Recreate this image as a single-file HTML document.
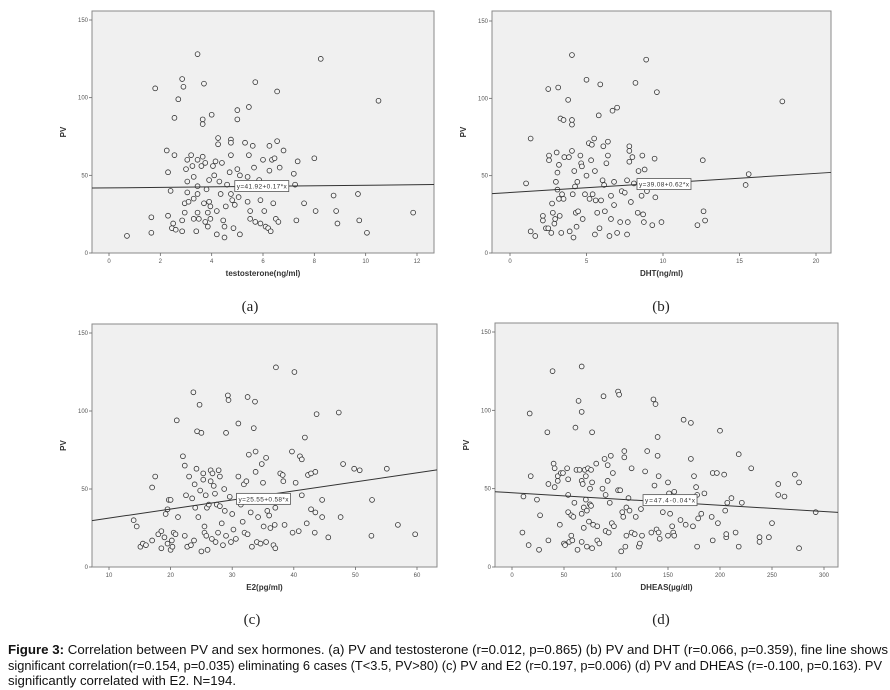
<!DOCTYPE html>
<html><head><meta charset="utf-8">
<style>
html,body{margin:0;padding:0;background:#fff;}
svg{display:block;}
</style></head>
<body>
<svg id="fig" width="890" height="690" viewBox="0 0 890 690" xmlns="http://www.w3.org/2000/svg"></svg>
<script>
// ---- data ----
const tX=[0.7,1.65,1.65,1.8,2.25,2.3,2.3,2.4,2.45,2.5,2.55,2.55,2.6,2.7,2.85,2.85,2.85,2.9,2.95,2.95,3.0,3.05,3.05,3.05,3.1,3.2,3.25,3.3,3.3,3.3,3.4,3.45,3.45,3.45,3.45,3.45,3.5,3.6,3.65,3.65,3.65,3.7,3.7,3.75,3.75,3.8,3.85,3.85,3.9,3.9,3.95,3.95,4.0,4.05,4.1,4.15,4.2,4.2,4.25,4.25,4.3,4.35,4.4,4.45,4.5,4.5,4.55,4.6,4.7,4.75,4.75,4.75,4.75,4.8,4.85,4.9,5.0,5.0,5.0,5.05,5.1,5.1,5.3,5.4,5.4,5.45,5.45,5.5,5.5,5.6,5.65,5.7,5.7,5.85,5.9,5.9,6.0,6.05,6.1,6.2,6.25,6.25,6.3,6.35,6.4,6.45,6.5,6.55,6.55,6.6,6.65,6.8,7.2,7.25,7.3,7.35,7.6,8.0,8.05,8.25,8.75,8.85,8.9,9.7,9.75,10.05,10.5,11.85];
const tY=[11,23,13,106,66,52,24,40,16,19,63,87,15,99,112,21,14,107,32,26,54,60,46,39,33,63,56,49,35,22,14,128,60,43,38,26,22,56,86,83,62,109,32,58,20,41,26,17,47,33,30,22,89,56,50,59,27,12,74,70,46,38,58,21,17,10,30,44,52,73,71,63,38,34,16,31,92,86,54,36,50,12,71,49,33,94,63,22,27,69,55,110,20,47,34,19,60,27,17,16,53,69,14,60,32,61,22,104,72,20,55,66,51,44,21,59,32,61,27,125,37,27,19,38,21,13,98,26];
const dX=[1.05,1.35,1.35,1.65,2.15,2.15,2.35,2.5,2.5,2.55,2.55,2.7,2.75,2.8,2.9,2.95,3.0,3.05,3.1,3.1,3.15,3.2,3.2,3.25,3.3,3.35,3.4,3.5,3.55,3.5,3.8,3.85,3.9,4.05,4.05,4.05,4.05,4.1,4.15,4.2,4.25,4.3,4.35,4.4,4.45,4.6,4.65,4.7,4.75,4.9,5.0,5.0,5.15,5.2,5.3,5.35,5.4,5.5,5.55,5.55,5.6,5.7,5.8,5.85,5.9,5.95,6.05,6.1,6.15,6.2,6.3,6.4,6.4,6.5,6.6,6.6,6.7,6.8,6.8,7.0,7.0,7.2,7.3,7.5,7.65,7.65,7.7,7.8,7.8,7.8,7.9,8.0,8.1,8.2,8.35,8.4,8.6,8.65,8.7,8.75,8.8,8.9,8.95,9.3,9.45,9.5,9.6,9.9,12.25,12.6,12.65,12.75,15.4,15.6,17.8];
const dY=[45,74,14,11,24,21,16,106,16,63,60,13,32,26,19,22,46,65,52,41,107,57,35,24,87,13,38,86,62,35,99,62,14,128,86,83,66,38,10,53,43,26,17,46,27,63,58,56,22,38,112,50,71,35,60,70,38,74,53,12,34,26,89,16,109,34,47,69,44,27,58,72,63,11,22,37,92,46,31,94,13,20,40,39,47,12,20,69,66,59,33,62,45,110,26,53,37,63,25,20,54,125,40,18,61,36,104,20,18,60,27,21,44,51,98];
const eX=[14,14.5,15.1,15.5,16,17,17,17.5,18,18.5,18.5,19,19.2,19.5,19.5,19.7,20,20,20.2,20.3,20.5,20.8,21,21.2,22,22.3,22.3,22.5,22.7,23,23.3,23.5,23.7,23.8,23.9,24,24.2,24.3,24.5,24.7,24.8,25,25,25.3,25.3,25.5,25.5,25.7,25.8,25.9,26,26.2,26.5,26.5,26.7,26.8,27,27.2,27.3,27.5,27.7,27.8,28,28,28.3,28.5,28.7,28.8,29,29,29.3,29.4,29.6,29.8,30,30.2,30.6,31,31,31.4,31.7,31.9,32,32.3,32.5,32.5,32.7,33,33.2,33.5,33.7,33.8,33.8,34,34.2,34.6,34.8,35,35.1,35.5,35.5,35.7,36,36.2,36.7,36.9,37,37.1,37,37.8,38.2,38.3,38.5,39.7,39.8,40.1,40.3,40.8,41,41.3,41.3,41.8,42.1,42.3,42.8,42.8,43.4,43.5,43.5,43.7,44.6,44.6,45.6,47.3,47.6,48,49.8,50.7,52.6,52.7,55.1,56.9,59.7];
const eY=[30,26,13,15,14,17,51,58,21,23,12,19,34,37,15,43,43,11,17,13,22,21,94,32,71,65,20,46,13,58,14,44,112,17,53,38,63,87,32,104,49,86,10,60,56,22,26,46,20,38,11,40,62,55,18,60,52,47,16,40,22,62,58,39,28,14,50,36,86,20,110,107,45,16,34,24,18,92,58,40,29,53,22,55,109,21,72,35,13,89,106,74,61,16,32,15,66,54,26,16,70,36,33,25,14,27,12,128,38,60,59,55,27,74,22,125,54,23,71,69,46,83,28,59,60,37,22,35,61,98,43,32,19,99,32,66,63,62,20,43,63,27,21];
const hX=[10,11,16,17,18,24,26,27,34,35,35,39,40,41,41,44,44,46,47,49,50,51,53,54,54,54,55,57,57,58,59,60,61,62,63,64,65,67,67,67,67,67,68,69,69,70,71,71,72,72,73,74,75,75,76,76,77,77,77,78,81,82,82,84,87,88,89,90,90,92,92,93,94,95,96,97,98,102,102,103,104,105,106,107,108,108,109,110,110,112,113,115,115,118,119,122,123,124,125,128,130,134,136,137,138,139,140,140,141,141,142,145,150,150,151,152,154,155,156,156,162,165,167,172,172,174,175,177,178,178,179,182,185,192,193,193,197,198,200,204,205,206,206,207,211,215,218,218,221,230,238,238,247,250,256,256,262,272,276,276,292];
const hY=[22,45,14,98,58,43,11,33,86,53,17,125,66,63,51,55,58,27,60,60,15,14,63,56,46,35,16,33,20,17,32,41,89,62,11,106,62,99,128,55,34,16,53,38,25,62,58,43,13,36,63,29,50,40,62,39,86,54,12,27,66,17,26,15,50,109,69,23,46,55,65,22,41,71,28,60,26,49,112,110,49,10,35,32,74,70,13,38,20,44,36,63,22,21,32,13,15,37,20,61,74,22,107,52,104,24,83,71,58,22,18,35,54,20,47,34,26,22,48,20,30,94,27,92,69,26,58,51,46,13,31,34,47,32,60,17,60,28,87,59,36,19,21,41,44,22,72,13,41,63,19,16,19,28,46,53,45,59,54,12,35];
const yTicks=[0,50,100,150];
const tTicks=[0,2,4,6,8,10,12];
const dTicks=[0,5,10,15,20];
const dTickLabels=["0","5","10","15","20"];
const eTicks=[10,20,30,40,50,60];
const hTicks=[0,50,100,150,200,250,300];
const intercepts=[41.92,39.08,25.55,47.4];
const slopes=[0.17,0.62,0.58,-0.04];
const eqLabels=["y=41.92+0.17*x","y=39.08+0.62*x","y=25.55+0.58*x","y=47.4-0.04*x"];

const NS="http://www.w3.org/2000/svg";
const svg=document.getElementById('fig');
function mk(tag,attrs,parent){const e=document.createElementNS(NS,tag);for(const k in attrs)e.setAttribute(k,attrs[k]);(parent||svg).appendChild(e);return e;}

const panels=[
 {id:'a',xs:tX,ys:tY,ticks:tTicks,labels:tTicks.map(String),box:[92,11,434,253],x0:0,x1:12,px0:109,px1:417,py150:20,py0:253,title:'testosterone(ng/ml)',lab:'(a)',labX:250,labY:311,eqX:4.9},
 {id:'b',xs:dX,ys:dY,ticks:dTicks,labels:dTickLabels,box:[492,11,831,253],x0:0,x1:20,px0:510,px1:816,py150:21,py0:253,title:'DHT(ng/ml)',lab:'(b)',labX:661,labY:311,eqX:8.3},
 {id:'c',xs:eX,ys:eY,ticks:eTicks,labels:eTicks.map(String),box:[92,324,437,567],x0:10,x1:60,px0:109,px1:417,py150:333,py0:567,title:'E2(pg/ml)',lab:'(c)',labX:252,labY:624,eqX:30.7},
 {id:'d',xs:hX,ys:hY,ticks:hTicks,labels:hTicks.map(String),box:[495,323,838,567],x0:0,x1:300,px0:512,px1:824,py150:332,py0:567,title:'DHEAS(\u00b5g/dl)',lab:'(d)',labX:661,labY:624,eqX:126}
];

panels.forEach((p,i)=>{
 const g=mk('g',{});
 
 
 const sx=v=>p.px0+(v-p.x0)*(p.px1-p.px0)/(p.x1-p.x0);
 const sy=v=>p.py0-(v)*(p.py0-p.py150)/150;
 const [L,T,R,B]=p.box;
 const bg=mk('rect',{x:L,y:T,width:R-L,height:B-T,fill:'#f0f0f0',stroke:'#8a8a8a','stroke-width':1},g);
 
 
 // y ticks
 yTicks.forEach(v=>{
  mk('line',{x1:L-3,x2:L,y1:sy(v),y2:sy(v),stroke:'#666','stroke-width':0.8},g);
  const t=mk('text',{x:L-4,y:sy(v)+2,'font-size':6,'text-anchor':'end',fill:'#555','font-family':'Liberation Sans, sans-serif'},g);
  t.textContent=v;
  
  
 });
 p.ticks.forEach((v,k)=>{
  mk('line',{x1:sx(v),x2:sx(v),y1:B,y2:B+3,stroke:'#666','stroke-width':0.8},g);
  const t=mk('text',{x:sx(v),y:B+10,'font-size':6,'text-anchor':'middle',fill:'#555','font-family':'Liberation Sans, sans-serif'},g);
  t.textContent=p.labels[k];
  
  
 });
 const xt=mk('text',{x:(L+R)/2,y:B+23,'font-size':8,'font-weight':'bold','text-anchor':'middle',fill:'#333','font-family':'Liberation Sans, sans-serif'},g);
 xt.textContent=p.title;
 
 
 const cy=(T+B)/2;
 const yt=mk('text',{x:L-26,y:cy,'font-size':8,'font-weight':'bold','text-anchor':'middle',fill:'#333','font-family':'Liberation Sans, sans-serif',transform:`rotate(-90 ${L-26} ${cy})`},g);
 yt.textContent='PV';
 
 
 // points
 p.xs.forEach((xv,k)=>{
  const c=mk('circle',{cx:sx(xv),cy:sy(p.ys[k]),r:2.4,fill:'#f4f4f4',stroke:'#333','stroke-width':0.8},g);
  
  
 });
 // regression line across plot
 const xa=p.x0+(L-p.px0)*(p.x1-p.x0)/(p.px1-p.px0);
 const xb=p.x0+(R-p.px0)*(p.x1-p.x0)/(p.px1-p.px0);
 const ln=mk('line',{x1:L,y1:sy(intercepts[i]+slopes[i]*xa),x2:R,y2:sy(intercepts[i]+slopes[i]*xb),stroke:'#333','stroke-width':1},g);
 
 
 const ex=sx(p.eqX), ey=sy(intercepts[i]+slopes[i]*p.eqX);
 const eb=mk('rect',{x:ex,y:ey-6,width:54,height:11,fill:'#fff',stroke:'#555','stroke-width':0.8},g);
 
 
 const et=mk('text',{x:ex+2,y:ey+2,'font-size':6.5,fill:'#333','font-family':'Liberation Sans, sans-serif',textLength:50},g);
 et.textContent=eqLabels[i];
 
 
 const pl=mk('text',{x:p.labX,y:p.labY,'font-size':15,'text-anchor':'middle',fill:'#222','font-family':'Liberation Serif, serif'});
 pl.textContent=p.lab;
 
 
});

// caption
const lines=[
 {bold:'Figure 3:',rest:' Correlation between PV and sex hormones. (a) PV and testosterone (r=0.012, p=0.865) (b) PV and DHT (r=0.066, p=0.359), fine line shows',y:654,len:880},
 {bold:'',rest:'significant correlation(r=0.154, p=0.035) eliminating 6 cases (T<3.5, PV>80) (c) PV and E2 (r=0.197, p=0.006) (d) PV and DHEAS (r=-0.100, p=0.163). PV',y:670,len:874},
 {bold:'',rest:'significantly correlated with E2. N=194.',y:685,len:228}
];
lines.forEach(l=>{
 const t=mk('text',{x:8,y:l.y,'font-size':12.5,fill:'#111','font-family':'Liberation Sans, sans-serif',textLength:l.len,lengthAdjust:'spacingAndGlyphs'});
 
 
 if(l.bold){const b=mk('tspan',{'font-weight':'bold'},t);b.textContent=l.bold;}
 const r=mk('tspan',{},t);r.textContent=l.rest;
});
</script>
</body></html>
